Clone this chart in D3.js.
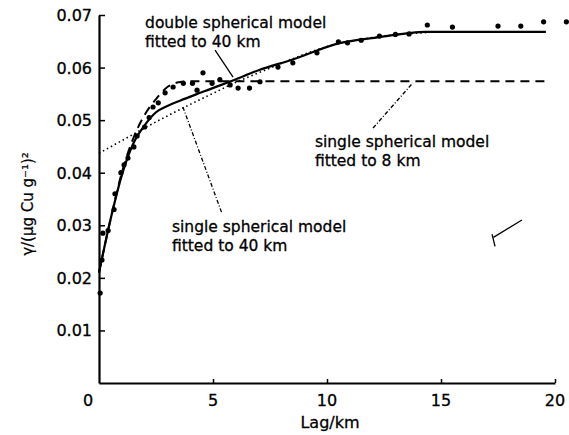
<!DOCTYPE html>
<html>
<head>
<meta charset="utf-8">
<script src="https://cdn.jsdelivr.net/npm/d3@7"></script>
<style>
  body { margin: 0; background: #fff; }
  text { font-family: "DejaVu Sans", sans-serif; fill: #000; }
</style>
</head>
<body>
<div id="chart"></div>
<script>
// observed semivariances (lag km, gamma)
const obsLag = [0.05, 0.13, 0.17, 0.4, 0.66, 0.7, 0.96, 1.1, 1.27, 1.53, 1.67, 2.0, 2.2, 2.37, 2.6, 2.9, 3.25,
    3.7, 4.1, 4.3, 4.56, 4.96, 5.3, 5.75, 6.1, 6.6, 7.06, 7.85, 8.5, 9.56, 10.5, 10.9, 11.5, 12.3, 13.0, 13.6,
    14.4, 15.5, 17.5, 18.5, 19.5, 20.5];
const obsGamma = [0.0171, 0.0234, 0.0285, 0.029, 0.033, 0.036, 0.040, 0.0415, 0.0428, 0.0449, 0.047, 0.0487, 0.0505, 0.0525, 0.0533, 0.0552, 0.0563,
    0.057, 0.057, 0.0557, 0.059, 0.057, 0.0577, 0.0567, 0.0561, 0.0561, 0.0573, 0.0601, 0.0609, 0.0628, 0.0649, 0.0647, 0.0652, 0.066, 0.0663, 0.0664,
    0.0681, 0.0677, 0.0679, 0.0679, 0.0687, 0.0687];

// double spherical model fitted to 40 km (solid)
const dblLag = [0, 0.5, 1, 1.5, 2, 2.5, 3, 3.55, 4.5, 5.9, 7, 8.4, 10.6, 12.3, 13.5, 14.3, 19.6];
const dblGamma = [0.021, 0.031, 0.0395, 0.0455, 0.049, 0.0515, 0.0527, 0.0537, 0.0553, 0.0576, 0.0595, 0.0614, 0.0647, 0.0658, 0.0665, 0.0668, 0.0668];

// single spherical model fitted to 8 km (dashed)
const sng8Lag = [0, 0.5, 1, 1.5, 2, 2.5, 3, 3.5, 4, 19.8];
const sng8Gamma = [0.021, 0.031, 0.040, 0.0465, 0.051, 0.054, 0.0563, 0.0572, 0.0574, 0.0574];

// single spherical model fitted to 40 km (dotted)
const sng40Lag = [0, 1, 2, 3, 4, 5, 6, 7, 8, 10, 12, 14.5];
const sng40Gamma = [0.0437, 0.0461, 0.0485, 0.0508, 0.053, 0.0551, 0.0572, 0.059, 0.0608, 0.064, 0.0657, 0.0667];

const xTicks = [0, 5, 10, 15, 20];
const yTicks = [0.01, 0.02, 0.03, 0.04, 0.05, 0.06, 0.07];
const yTickLabels = ["0.01", "0.02", "0.03", "0.04", "0.05", "0.06", "0.07"];

// labels: [lag, gamma, line1, line2]
const labels = [
    [2.02, 0.0675, "double spherical model", "fitted to 40 km"],
    [9.47, 0.0449, "single spherical model", "fitted to 8 km"],
    [3.2, 0.0287, "single spherical model", "fitted to 40 km"]
];
// leader lines: [lag1, g1, lag2, g2, dash]
const leaders = [
    [5.09, 0.0633, 5.88, 0.0582, "none"],
    [12.02, 0.0485, 13.77, 0.0571, "4,2,1,2"],
    [3.68, 0.0525, 5.39, 0.0323, "4,2,1,2"],
    [18.55, 0.031, 17.3, 0.0277, "none"],
    [17.24, 0.0283, 17.37, 0.026, "none"]
];

const W = 569, H = 435;
const svg = d3.select("#chart").append("svg")
    .attr("width", W)
    .attr("height", H);

const x = d3.scaleLinear().domain([0, 20]).range([99, 555]);
const y = d3.scaleLinear().domain([0, 0.07]).range([383, 15]);

// axes
const gx = svg.append("g").attr("transform", "translate(0," + y(0) + ")")
    .call(d3.axisBottom(x).tickValues(xTicks.slice(1)).tickSizeInner(-4).tickSizeOuter(0).tickFormat(""));
gx.select(".domain").attr("stroke-width", 2.2);
gx.selectAll(".tick line").attr("stroke-width", 1.5);

const gy = svg.append("g").attr("transform", "translate(" + x(0) + ",0)")
    .call(d3.axisLeft(y).tickValues(yTicks).tickSizeInner(-6).tickSizeOuter(0).tickFormat(""));
gy.select(".domain").attr("stroke-width", 2.2);
gy.selectAll(".tick line").attr("stroke-width", 1.5);

// tick labels
svg.selectAll(".xl").data(xTicks).enter().append("text")
    .attr("x", (d, i) => x(d) - (i == 0 ? 11 : 0))
    .attr("y", 406)
    .attr("text-anchor", "middle")
    .attr("font-size", 16)
    .attr("stroke", "#000")
    .attr("stroke-width", 0.3)
    .text(d => d);

svg.selectAll(".yl").data(yTicks).enter().append("text")
    .attr("x", 92)
    .attr("y", d => y(d) + 6)
    .attr("text-anchor", "end")
    .attr("font-size", 16)
    .attr("stroke", "#000")
    .attr("stroke-width", 0.3)
    .text((d, i) => yTickLabels[i]);

// axis titles
svg.append("text")
    .attr("x", x(10) + 3)
    .attr("y", 428)
    .attr("text-anchor", "middle")
    .attr("font-size", 16)
    .attr("stroke", "#000")
    .attr("stroke-width", 0.3)
    .text("Lag/km");

svg.append("text")
    .attr("transform", "translate(33,204) rotate(-90)")
    .attr("text-anchor", "middle")
    .attr("font-size", 15)
    .attr("stroke", "#000")
    .attr("stroke-width", 0.2)
    .text("γ/(μg Cu g⁻¹)²");

// model curves
let line = d3.line()
    .x(d => x(d[0]))
    .y(d => y(d[1]))
    .curve(d3.curveMonotoneX);

function drawModel(lags, gammas, dash, width) {
    svg.append("path")
        .datum(lags.map((l, i) => [l, gammas[i]]))
        .attr("d", line)
        .attr("fill", "none")
        .attr("stroke", "#000")
        .attr("stroke-width", width)
        .attr("stroke-dasharray", dash);
}
drawModel(sng40Lag, sng40Gamma, "1.5,3", 1.6);
drawModel(sng8Lag, sng8Gamma, "9,6", 2);
drawModel(dblLag, dblGamma, "none", 2.2);

// observations
svg.selectAll(".pt").data(obsLag).enter().append("circle")
    .attr("cx", d => x(d))
    .attr("cy", (d, i) => y(obsGamma[i]))
    .attr("r", 2.6)
    .attr("fill", "#000");

// leaders
leaders.forEach(function (l) {
    svg.append("line")
        .attr("x1", x(l[0])).attr("y1", y(l[1]))
        .attr("x2", x(l[2])).attr("y2", y(l[3]))
        .attr("stroke", "#000")
        .attr("stroke-width", 1.3)
        .attr("stroke-dasharray", l[4]);
});

// annotation text
labels.forEach(function (t) {
    let g = svg.append("text")
        .attr("x", x(t[0]))
        .attr("y", y(t[1]))
        .attr("font-size", 15.5)
        .attr("stroke", "#000")
        .attr("stroke-width", 0.3);
    g.append("tspan").attr("x", x(t[0])).text(t[2]);
    g.append("tspan").attr("x", x(t[0])).attr("dy", 19).text(t[3]);
});
</script>
</body>
</html>
